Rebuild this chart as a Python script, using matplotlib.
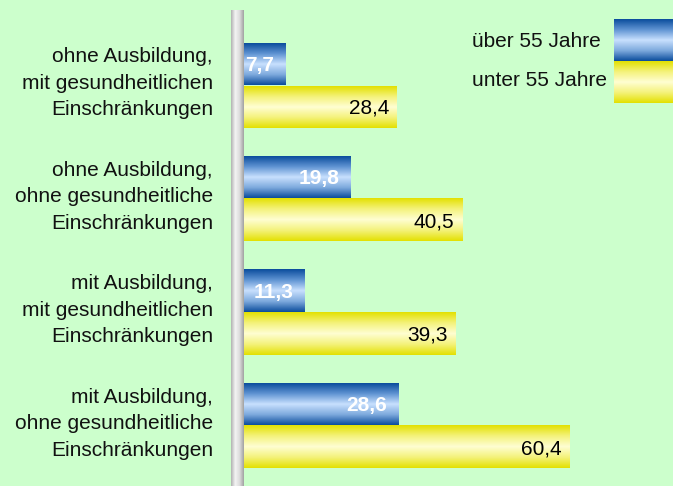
import numpy as np
import matplotlib
matplotlib.use('Agg')
import matplotlib.pyplot as plt
from matplotlib.colors import LinearSegmentedColormap

plt.rcParams['font.family'] = ['Liberation Sans', 'DejaVu Sans']

categories = ['ohne Ausbildung,\nmit gesundheitlichen\nEinschränkungen',
              'ohne Ausbildung,\nohne gesundheitliche\nEinschränkungen',
              'mit Ausbildung,\nmit gesundheitlichen\nEinschränkungen',
              'mit Ausbildung,\nohne gesundheitliche\nEinschränkungen']
ueber55 = [7.7, 19.8, 11.3, 28.6]
unter55 = [28.4, 40.5, 39.3, 60.4]
series_names = ['über 55 Jahre', 'unter 55 Jahre']

bg = '#ccffcc'
blue_cm = LinearSegmentedColormap.from_list('b', ['#0a4c9c', '#5f93d2', '#c8e0fe', '#7eaadd', '#0a4c9c'])
yel_cm = LinearSegmentedColormap.from_list('y', ['#e3e000', '#f4f27a', '#fffed2', '#f4f27a', '#e3e000'])
pole_cm = LinearSegmentedColormap.from_list('p', ['#b0b0b0', '#f4f4f4', '#dcdcdc', '#a0a0a0'])

W, H = 673, 486
fig = plt.figure(figsize=(W / 100, H / 100), dpi=100, facecolor=bg)

# axes in pixel layout: pole at 231..244, value 0 at x=244
px_per_unit = 5.385
left_px, top_px = 231, 11
ax = fig.add_axes([left_px / W, 0, 1 - left_px / W, (H - top_px) / H])
ax.set_facecolor(bg)
x0 = -(244 - left_px) / px_per_unit
ax.set_xlim(x0, x0 + (W - left_px) / px_per_unit)
grp = 113.5
ax.set_ylim(-0.656 + (H - top_px) / grp, -0.656)
ax.axis('off')

grad = np.linspace(0, 1, 256).reshape(-1, 1)
fs = 15


def gbar(x_a, x_b, y_a, y_b, cm, horiz=False):
    g = grad.T if horiz else grad
    ax.imshow(g, cmap=cm, aspect='auto', extent=(x_a, x_b, y_b, y_a),
              interpolation='bilinear', clip_on=False, zorder=2)


# pole
gbar(x0, 0, -0.656, -0.656 + (H - top_px) / grp, pole_cm, horiz=True)

h = 42 / grp
for i in range(len(categories)):
    yb = i - 21.5 / grp
    yy = i + 21.5 / grp
    gbar(0, ueber55[i], yb - h / 2, yb + h / 2, blue_cm)
    gbar(0, unter55[i], yy - h / 2, yy + h / 2, yel_cm)
    ax.text(ueber55[i] - 11 / px_per_unit, yb + 0.01, f'{ueber55[i]:.1f}'.replace('.', ','),
            ha='right', va='center', color='white', fontsize=fs,
            fontweight='bold', zorder=3)
    ax.text(unter55[i] - 8 / px_per_unit, yy + 0.01, f'{unter55[i]:.1f}'.replace('.', ','),
            ha='right', va='center', color='black', fontsize=fs, zorder=3)
    ax.text(-(244 - 213) / px_per_unit, i - 0.02, categories[i], ha='right', va='center',
            fontsize=fs, linespacing=1.5, color='#111111', zorder=3)

# legend
lx0 = (614 - 244) / px_per_unit
lx1 = (W - 244) / px_per_unit + 1
ly = lambda p: (p - 85.5) / grp
gbar(lx0, lx1, ly(19), ly(61), blue_cm)
gbar(lx0, lx1, ly(61), ly(103), yel_cm)
ax.text((601 - 244) / px_per_unit, ly(42), series_names[0], ha='right', va='center',
        fontsize=fs, color='#111111')
ax.text((607 - 244) / px_per_unit, ly(81), series_names[1], ha='right', va='center',
        fontsize=fs, color='#111111')

fig.savefig('out.png', dpi=100, facecolor=bg)
